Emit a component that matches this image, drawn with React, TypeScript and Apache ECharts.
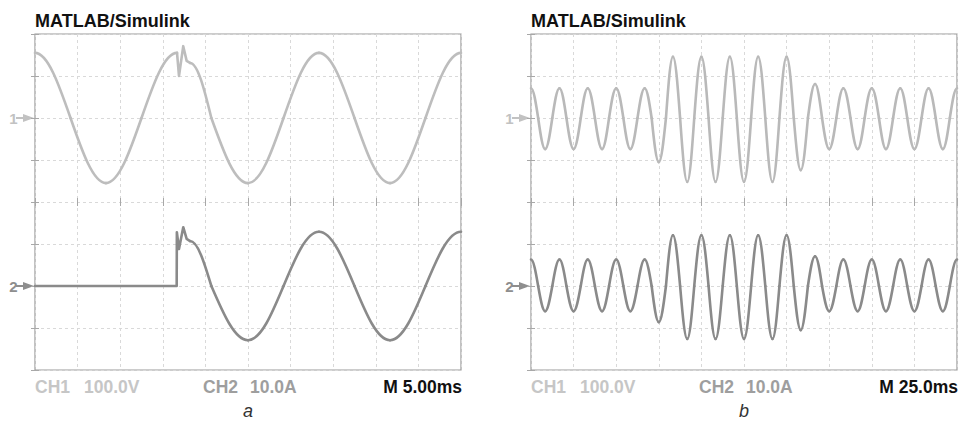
import React, { useEffect, useRef } from "react";
import * as echarts from "echarts";

// ---------- Panel a (M 5.00 ms/div) ----------
// Key points: peaks, troughs and zero crossings (t in ms)
// CH1 voltage, V (100 V/div)
const aCh1BeforeT = [0, 4.17, 8.33, 12.5, 16.67];
const aCh1BeforeV = [155, 0, -155, 0, 155];
const aCh1FaultT = [16.67, 16.9, 17.4, 17.8, 18.2];
const aCh1FaultV = [155, 100, 171, 136, 131];
const aCh1AfterT = [18.2, 20.7, 25, 29.17, 33.33, 37.5, 41.67, 45.83, 50];
const aCh1AfterV = [131, 0, -155, 0, 155, 0, -155, 0, 155];
// CH2 current, A (10 A/div)
const aCh2FaultT = [0, 16.63, 16.65, 16.9, 17.4, 17.8, 18.2];
const aCh2FaultI = [0, 0, 12.8, 8.8, 14.0, 11.2, 10.7];
const aCh2AfterT = [18.2, 20.7, 25, 29.17, 33.33, 37.5, 41.67, 45.83, 50];
const aCh2AfterI = [10.7, 0, -12.9, 0, 12.9, 0, -12.9, 0, 12.9];

// ---------- Panel b (M 25.0 ms/div) ----------
const bT = [
  0, 4.2, 8.3, 12.5, 16.7, 20.8, 25, 29.2, 33.3, 37.5, 41.7, 45.8, 50, 54.2, 58.3, 62.5,
  66.7, 70.8, 75, 79.2, 83.3, 87.5, 91.7, 95.8, 100, 104.2, 108.3, 112.5, 116.7, 120.8,
  125, 129.2, 133.3, 137.5, 141.7, 145.8, 150, 154.2, 158.3, 162.5, 166.7, 170.8, 175,
  179.2, 183.3, 187.5, 191.7, 195.8, 200, 204.2, 208.3, 212.5, 216.7, 220.8, 225, 229.2,
  233.3, 237.5, 241.7, 245.8, 250,
];
const bCh1V = [
  71, 0, -74, 0, 71, 0, -74, 0, 71, 0, -74, 0, 71, 0, -74, 0,
  71, 0, -105, 0, 146, 0, -152, 0, 146, 0, -152, 0, 146, 0, -152, 0,
  146, 0, -152, 0, 146, 0, -124, 0, 81, 0, -74, 0, 71, 0, -74, 0,
  71, 0, -74, 0, 71, 0, -74, 0, 71, 0, -74, 0, 71,
];
const bCh2I = [
  6.3, 0, -6.0, 0, 6.3, 0, -6.0, 0, 6.3, 0, -6.0, 0, 6.3, 0, -6.0, 0,
  6.3, 0, -8.6, 0, 12.1, 0, -12.6, 0, 12.1, 0, -12.6, 0, 12.1, 0, -12.6, 0,
  12.1, 0, -12.6, 0, 12.1, 0, -10.5, 0, 7.1, 0, -6.0, 0, 6.3, 0, -6.0, 0,
  6.3, 0, -6.0, 0, 6.3, 0, -6.0, 0, 6.3, 0, -6.0, 0, 6.3,
];

// channel scales and screen offsets (divisions)
const CH1_PER_DIV = 100;
const CH2_PER_DIV = 10;
const CH1_OFFSET = 2;
const CH2_OFFSET = -2;

const panels = [
  { left: 35, xMax: 50, xInt: 5, ch1: "100.0V", ch2: "10.0A", m: "M 5.00ms", tag: "a" },
  { left: 531, xMax: 250, xInt: 25, ch1: "100.0V", ch2: "10.0A", m: "M 25.0ms", tag: "b" },
];

const GRID_TOP = 34;
const GRID_W = 426;
const GRID_H = 336;

const C1 = "#bdbdbd";
const C2 = "#8a8a8a";
const LW = 2.6;
const FONT = '"Liberation Sans", Arial, Helvetica, sans-serif';

function zip(t: number[], v: number[], perDiv: number, offset: number) {
  return t.map((x, i) => [x, offset + v[i] / perDiv]);
}

function polySeries(data: number[][], color: string, idx: number) {
  return {
    type: "line",
    data,
    xAxisIndex: idx * 2,
    yAxisIndex: idx * 2,
    smooth: false,
    symbol: "none",
    silent: true,
    lineStyle: { color, width: LW, cap: "round", join: "round" },
    z: 3,
  };
}

// Sine-shaped Bezier between consecutive key points (zero crossing <-> extremum)
function waveSeries(t: number[], v: number[], perDiv: number, offset: number, color: string, idx: number) {
  const data: number[][] = [];
  for (let i = 0; i < t.length - 1; i++) {
    data.push([t[i], offset + v[i] / perDiv, t[i + 1], offset + v[i + 1] / perDiv, v[i] === 0 ? 1 : 0]);
  }
  return {
    type: "custom",
    xAxisIndex: idx * 2,
    yAxisIndex: idx * 2,
    silent: true,
    z: 3,
    encode: { x: [0, 2], y: [1, 3] },
    data,
    renderItem: (_params: any, api: any) => {
      const p = api.coord([api.value(0), api.value(1)]);
      const q = api.coord([api.value(2), api.value(3)]);
      const fromZero = api.value(4) === 1;
      const dx = q[0] - p[0];
      const dy = q[1] - p[1];
      let c1: number[];
      let c2: number[];
      if (fromZero) {
        c1 = [p[0] + 0.326 * dx, p[1] + 0.512 * dy];
        c2 = [p[0] + 0.638 * dx, q[1]];
      } else {
        c1 = [p[0] + 0.362 * dx, p[1]];
        c2 = [p[0] + 0.674 * dx, p[1] + 0.488 * dy];
      }
      return {
        type: "bezierCurve",
        shape: { x1: p[0], y1: p[1], x2: q[0], y2: q[1], cpx1: c1[0], cpy1: c1[1], cpx2: c2[0], cpy2: c2[1] },
        style: { stroke: color, lineWidth: LW, fill: "none", lineCap: "round" },
      };
    },
  };
}

function txt(x: number, y: number, text: string, font: string, fill: string, align = "left") {
  return {
    type: "text",
    x,
    y,
    silent: true,
    style: {
      text,
      font,
      fill,
      align,
      textAlign: align,
      verticalAlign: "middle",
      textVerticalAlign: "middle",
    },
  };
}

export default function App() {
  const ref = useRef<HTMLDivElement>(null);

  useEffect(() => {
    if (!ref.current) return;
    const chart = echarts.init(ref.current, undefined, { renderer: "svg" });

    const grids: any[] = [];
    const xAxes: any[] = [];
    const yAxes: any[] = [];
    const graphics: any[] = [];

    const tick = { show: true, inside: true, length: 4, lineStyle: { color: "#a8a8a8", width: 1 } };
    const split = { show: true, lineStyle: { color: "#d9d9d9", width: 1, type: [3, 3] } };

    panels.forEach((p, i) => {
      grids.push({
        left: p.left,
        top: GRID_TOP,
        width: GRID_W,
        height: GRID_H,
        show: true,
        borderColor: "#9a9a9a",
        borderWidth: 1.2,
        backgroundColor: "transparent",
      });
      const xBase = { type: "value", gridIndex: i, min: 0, max: p.xMax, interval: p.xInt, axisLine: { show: false }, axisLabel: { show: false } };
      xAxes.push({ ...xBase, position: "bottom", axisTick: tick, splitLine: split });
      xAxes.push({ ...xBase, position: "top", axisTick: tick, splitLine: { show: false } });
      const yBase = { type: "value", gridIndex: i, min: -4, max: 4, interval: 1, axisLine: { show: false }, axisLabel: { show: false } };
      yAxes.push({ ...yBase, position: "left", axisTick: tick, splitLine: split });
      yAxes.push({ ...yBase, position: "right", axisTick: tick, splitLine: { show: false } });

      const L = p.left;
      const right = L + GRID_W;
      const y1 = GRID_TOP + GRID_H / 2 - (CH1_OFFSET * GRID_H) / 8;
      const y2 = GRID_TOP + GRID_H / 2 - (CH2_OFFSET * GRID_H) / 8;

      graphics.push(txt(L, 20.5, "MATLAB/Simulink", `bold 18px ${FONT}`, "#111"));
      graphics.push(txt(L, 387, "CH1", `bold 17.5px ${FONT}`, "#c6c6c6"));
      graphics.push(txt(L + 49, 387, p.ch1, `bold 17.5px ${FONT}`, "#c6c6c6"));
      graphics.push(txt(L + 168, 387, "CH2", `bold 17.5px ${FONT}`, "#9e9e9e"));
      graphics.push(txt(L + 215, 387, p.ch2, `bold 17.5px ${FONT}`, "#9e9e9e"));
      graphics.push(txt(right + 1, 387, p.m, `bold 17.5px ${FONT}`, "#111", "right"));
      graphics.push(txt(L + GRID_W / 2, 411, p.tag, `italic 18px ${FONT}`, "#333", "center"));

      // channel markers
      [
        { y: y1, label: "1", c: "#c2c2c2" },
        { y: y2, label: "2", c: "#8e8e8e" },
      ].forEach((m) => {
        graphics.push(txt(L - 17.5, m.y, m.label, `bold 15px ${FONT}`, m.c, "right"));
        graphics.push({
          type: "line",
          silent: true,
          shape: { x1: L - 19, y1: m.y, x2: L - 10, y2: m.y },
          style: { stroke: m.c, lineWidth: 2 },
        });
        graphics.push({
          type: "polygon",
          silent: true,
          shape: { points: [[L - 12, m.y - 4], [L - 1, m.y], [L - 12, m.y + 4]] },
          style: { fill: m.c },
        });
      });
    });

    const series = [
      waveSeries(aCh1BeforeT, aCh1BeforeV, CH1_PER_DIV, CH1_OFFSET, C1, 0),
      polySeries(zip(aCh1FaultT, aCh1FaultV, CH1_PER_DIV, CH1_OFFSET), C1, 0),
      waveSeries(aCh1AfterT, aCh1AfterV, CH1_PER_DIV, CH1_OFFSET, C1, 0),
      polySeries(zip(aCh2FaultT, aCh2FaultI, CH2_PER_DIV, CH2_OFFSET), C2, 0),
      waveSeries(aCh2AfterT, aCh2AfterI, CH2_PER_DIV, CH2_OFFSET, C2, 0),
      waveSeries(bT, bCh1V, CH1_PER_DIV, CH1_OFFSET, "#b9b9b9", 1),
      waveSeries(bT, bCh2I, CH2_PER_DIV, CH2_OFFSET, C2, 1),
    ];

    chart.setOption({
      animation: false,
      backgroundColor: "#ffffff",
      grid: grids,
      xAxis: xAxes,
      yAxis: yAxes,
      series,
      graphic: { elements: graphics },
    });

    return () => chart.dispose();
  }, []);

  return (
    <div
      ref={ref}
      style={{ position: "absolute", left: 0, top: 0, width: 960, height: 426, background: "#fff" }}
    />
  );
}
